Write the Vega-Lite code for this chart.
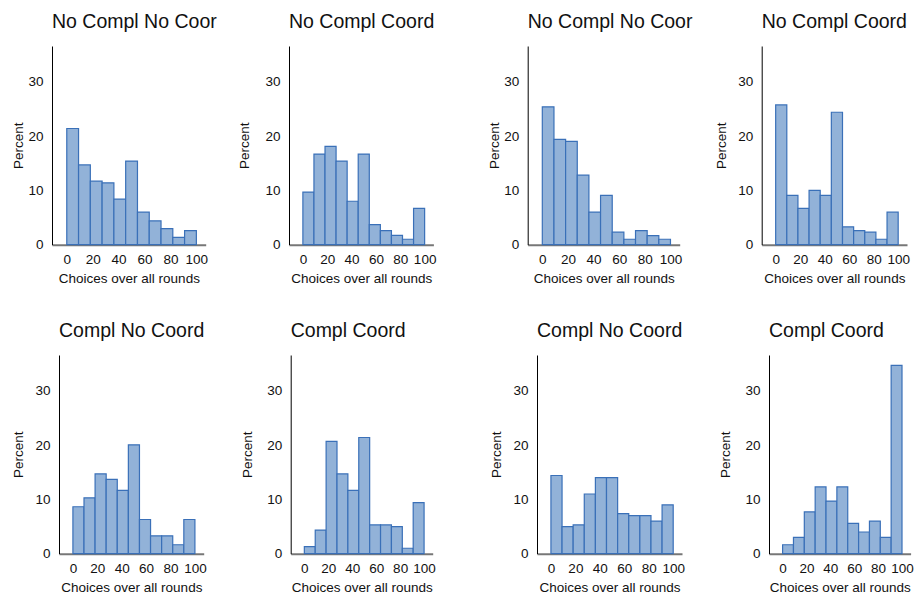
{
  "$schema": "https://vega.github.io/schema/vega-lite/v6.json",
  "background": "white",
  "padding": {"left": 11, "top": 11, "right": 0, "bottom": 0},
  "data": {
    "values": [
      {"p": 1, "lo": 0, "hi": 9.09, "pct": 21.4},
      {"p": 1, "lo": 9.09, "hi": 18.18, "pct": 14.7},
      {"p": 1, "lo": 18.18, "hi": 27.27, "pct": 11.7},
      {"p": 1, "lo": 27.27, "hi": 36.36, "pct": 11.4},
      {"p": 1, "lo": 36.36, "hi": 45.45, "pct": 8.4},
      {"p": 1, "lo": 45.45, "hi": 54.55, "pct": 15.4},
      {"p": 1, "lo": 54.55, "hi": 63.64, "pct": 6.0},
      {"p": 1, "lo": 63.64, "hi": 72.73, "pct": 4.4},
      {"p": 1, "lo": 72.73, "hi": 81.82, "pct": 2.95},
      {"p": 1, "lo": 81.82, "hi": 90.91, "pct": 1.35},
      {"p": 1, "lo": 90.91, "hi": 100, "pct": 2.6},

      {"p": 2, "lo": 0, "hi": 9.09, "pct": 9.7},
      {"p": 2, "lo": 9.09, "hi": 18.18, "pct": 16.7},
      {"p": 2, "lo": 18.18, "hi": 27.27, "pct": 18.1},
      {"p": 2, "lo": 27.27, "hi": 36.36, "pct": 15.4},
      {"p": 2, "lo": 36.36, "hi": 45.45, "pct": 8.0},
      {"p": 2, "lo": 45.45, "hi": 54.55, "pct": 16.7},
      {"p": 2, "lo": 54.55, "hi": 63.64, "pct": 3.7},
      {"p": 2, "lo": 63.64, "hi": 72.73, "pct": 2.6},
      {"p": 2, "lo": 72.73, "hi": 81.82, "pct": 1.7},
      {"p": 2, "lo": 81.82, "hi": 90.91, "pct": 1.0},
      {"p": 2, "lo": 90.91, "hi": 100, "pct": 6.7},

      {"p": 3, "lo": 0, "hi": 9.09, "pct": 25.4},
      {"p": 3, "lo": 9.09, "hi": 18.18, "pct": 19.4},
      {"p": 3, "lo": 18.18, "hi": 27.27, "pct": 19.05},
      {"p": 3, "lo": 27.27, "hi": 36.36, "pct": 12.8},
      {"p": 3, "lo": 36.36, "hi": 45.45, "pct": 6.0},
      {"p": 3, "lo": 45.45, "hi": 54.55, "pct": 9.1},
      {"p": 3, "lo": 54.55, "hi": 63.64, "pct": 2.3},
      {"p": 3, "lo": 63.64, "hi": 72.73, "pct": 1.0},
      {"p": 3, "lo": 72.73, "hi": 81.82, "pct": 2.6},
      {"p": 3, "lo": 81.82, "hi": 90.91, "pct": 1.66},
      {"p": 3, "lo": 90.91, "hi": 100, "pct": 1.0},

      {"p": 4, "lo": 0, "hi": 9.09, "pct": 25.75},
      {"p": 4, "lo": 9.09, "hi": 18.18, "pct": 9.1},
      {"p": 4, "lo": 18.18, "hi": 27.27, "pct": 6.7},
      {"p": 4, "lo": 27.27, "hi": 36.36, "pct": 10.0},
      {"p": 4, "lo": 36.36, "hi": 45.45, "pct": 9.1},
      {"p": 4, "lo": 45.45, "hi": 54.55, "pct": 24.4},
      {"p": 4, "lo": 54.55, "hi": 63.64, "pct": 3.3},
      {"p": 4, "lo": 63.64, "hi": 72.73, "pct": 2.6},
      {"p": 4, "lo": 72.73, "hi": 81.82, "pct": 2.3},
      {"p": 4, "lo": 81.82, "hi": 90.91, "pct": 1.0},
      {"p": 4, "lo": 90.91, "hi": 100, "pct": 6.0},

      {"p": 5, "lo": 0, "hi": 9.09, "pct": 8.65},
      {"p": 5, "lo": 9.09, "hi": 18.18, "pct": 10.3},
      {"p": 5, "lo": 18.18, "hi": 27.27, "pct": 14.7},
      {"p": 5, "lo": 27.27, "hi": 36.36, "pct": 13.7},
      {"p": 5, "lo": 36.36, "hi": 45.45, "pct": 11.65},
      {"p": 5, "lo": 45.45, "hi": 54.55, "pct": 20.06},
      {"p": 5, "lo": 54.55, "hi": 63.64, "pct": 6.3},
      {"p": 5, "lo": 63.64, "hi": 72.73, "pct": 3.3},
      {"p": 5, "lo": 72.73, "hi": 81.82, "pct": 3.3},
      {"p": 5, "lo": 81.82, "hi": 90.91, "pct": 1.65},
      {"p": 5, "lo": 90.91, "hi": 100, "pct": 6.3},

      {"p": 6, "lo": 0, "hi": 9.09, "pct": 1.3},
      {"p": 6, "lo": 9.09, "hi": 18.18, "pct": 4.35},
      {"p": 6, "lo": 18.18, "hi": 27.27, "pct": 20.7},
      {"p": 6, "lo": 27.27, "hi": 36.36, "pct": 14.7},
      {"p": 6, "lo": 36.36, "hi": 45.45, "pct": 11.65},
      {"p": 6, "lo": 45.45, "hi": 54.55, "pct": 21.4},
      {"p": 6, "lo": 54.55, "hi": 63.64, "pct": 5.3},
      {"p": 6, "lo": 63.64, "hi": 72.73, "pct": 5.3},
      {"p": 6, "lo": 72.73, "hi": 81.82, "pct": 5.0},
      {"p": 6, "lo": 81.82, "hi": 90.91, "pct": 1.0},
      {"p": 6, "lo": 90.91, "hi": 100, "pct": 9.4},

      {"p": 7, "lo": 0, "hi": 9.09, "pct": 14.4},
      {"p": 7, "lo": 9.09, "hi": 18.18, "pct": 5.0},
      {"p": 7, "lo": 18.18, "hi": 27.27, "pct": 5.3},
      {"p": 7, "lo": 27.27, "hi": 36.36, "pct": 11.0},
      {"p": 7, "lo": 36.36, "hi": 45.45, "pct": 14.0},
      {"p": 7, "lo": 45.45, "hi": 54.55, "pct": 14.0},
      {"p": 7, "lo": 54.55, "hi": 63.64, "pct": 7.4},
      {"p": 7, "lo": 63.64, "hi": 72.73, "pct": 7.0},
      {"p": 7, "lo": 72.73, "hi": 81.82, "pct": 7.0},
      {"p": 7, "lo": 81.82, "hi": 90.91, "pct": 6.0},
      {"p": 7, "lo": 90.91, "hi": 100, "pct": 9.0},

      {"p": 8, "lo": 0, "hi": 9.09, "pct": 1.65},
      {"p": 8, "lo": 9.09, "hi": 18.18, "pct": 3.0},
      {"p": 8, "lo": 18.18, "hi": 27.27, "pct": 7.7},
      {"p": 8, "lo": 27.27, "hi": 36.36, "pct": 12.3},
      {"p": 8, "lo": 36.36, "hi": 45.45, "pct": 9.7},
      {"p": 8, "lo": 45.45, "hi": 54.55, "pct": 12.3},
      {"p": 8, "lo": 54.55, "hi": 63.64, "pct": 5.6},
      {"p": 8, "lo": 63.64, "hi": 72.73, "pct": 4.0},
      {"p": 8, "lo": 72.73, "hi": 81.82, "pct": 6.0},
      {"p": 8, "lo": 81.82, "hi": 90.91, "pct": 3.0},
      {"p": 8, "lo": 90.91, "hi": 100, "pct": 34.7}
    ]
  },
  "config": {
    "font": "Liberation Sans",
    "view": {"stroke": null},
    "bar": {"fill": "#92b2d8", "stroke": "#3a70b8", "strokeWidth": 1.2},
    "axis": {
      "grid": false,
      "ticks": false,
      "tickSize": 0,
      "labelFontSize": 13.5,
      "titleFontSize": 13.5,
      "titleFontWeight": "normal",
      "labelColor": "#111111",
      "titleColor": "#111111",
      "labelFlush": false,
      "labelOverlap": false
    },
    "axisX": {"domainColor": "#777777", "domainWidth": 2, "labelPadding": 8, "titlePadding": 5},
    "axisY": {"domainColor": "#000000", "domainWidth": 1, "labelPadding": 9},
    "title": {"fontSize": 19.5, "fontWeight": "normal", "anchor": "start", "frame": "group", "offset": 14, "color": "#111111"}
  },
  "columns": 1,
  "align": "none",
  "spacing": 35,
  "concat": [
    {
      "spacing": 50.7,
      "hconcat": [
        {
          "spacing": 20,
          "hconcat": [
            {
              "title": "No Compl No Coor",
              "width": 153.7, "height": 198.7,
              "transform": [{"filter": "datum.p == 1"}],
              "mark": "bar",
              "encoding": {
                "x": {"field": "lo", "type": "quantitative", "scale": {"domain": [-11.4, 107.2], "nice": false, "zero": false}, "axis": {"title": "Choices over all rounds", "values": [0, 20, 40, 60, 80, 100]}},
                "x2": {"field": "hi"},
                "y": {"field": "pct", "type": "quantitative", "scale": {"domain": [0, 36.6], "nice": false}, "axis": {"title": "Percent", "values": [0, 10, 20, 30], "titlePadding": 2.5}},
                "y2": {"datum": 0}
              }
            },
            {
              "title": "No Compl Coord",
              "width": 144.4, "height": 198.7,
              "transform": [{"filter": "datum.p == 2"}],
              "mark": "bar",
              "encoding": {
                "x": {"field": "lo", "type": "quantitative", "scale": {"domain": [-11.4, 107.2], "nice": false, "zero": false}, "axis": {"title": "Choices over all rounds", "values": [0, 20, 40, 60, 80, 100]}},
                "x2": {"field": "hi"},
                "y": {"field": "pct", "type": "quantitative", "scale": {"domain": [0, 36.6], "nice": false}, "axis": {"title": "Percent", "values": [0, 10, 20, 30], "titlePadding": 13.8}},
                "y2": {"datum": 0}
              }
            }
          ]
        },
        {
          "spacing": 21,
          "hconcat": [
            {
              "title": "No Compl No Coor",
              "width": 152, "height": 198.7,
              "transform": [{"filter": "datum.p == 3"}],
              "mark": "bar",
              "encoding": {
                "x": {"field": "lo", "type": "quantitative", "scale": {"domain": [-11.4, 107.2], "nice": false, "zero": false}, "axis": {"title": "Choices over all rounds", "values": [0, 20, 40, 60, 80, 100]}},
                "x2": {"field": "hi"},
                "y": {"field": "pct", "type": "quantitative", "scale": {"domain": [0, 36.6], "nice": false}, "axis": {"title": "Percent", "values": [0, 10, 20, 30], "titlePadding": 2.5}},
                "y2": {"datum": 0}
              }
            },
            {
              "title": "No Compl Coord",
              "width": 145.3, "height": 198.7,
              "transform": [{"filter": "datum.p == 4"}],
              "mark": "bar",
              "encoding": {
                "x": {"field": "lo", "type": "quantitative", "scale": {"domain": [-11.4, 107.2], "nice": false, "zero": false}, "axis": {"title": "Choices over all rounds", "values": [0, 20, 40, 60, 80, 100]}},
                "x2": {"field": "hi"},
                "y": {"field": "pct", "type": "quantitative", "scale": {"domain": [0, 36.6], "nice": false}, "axis": {"title": "Percent", "values": [0, 10, 20, 30], "titlePadding": 9.5}},
                "y2": {"datum": 0}
              }
            }
          ]
        }
      ]
    },
    {
      "spacing": 53,
      "hconcat": [
        {
          "spacing": 32.7,
          "hconcat": [
            {
              "title": {"text": "Compl No Coord", "dx": 7},
              "width": 151.7, "height": 198.7,
              "transform": [{"filter": "datum.p == 5"}],
              "mark": "bar",
              "encoding": {
                "x": {"field": "lo", "type": "quantitative", "scale": {"domain": [-11.4, 107.2], "nice": false, "zero": false, "range": [7, 151.7]}, "axis": {"title": "Choices over all rounds", "values": [0, 20, 40, 60, 80, 100]}},
                "x2": {"field": "hi"},
                "y": {"field": "pct", "type": "quantitative", "scale": {"domain": [0, 36.6], "nice": false}, "axis": {"title": "Percent", "values": [0, 10, 20, 30], "titlePadding": 9.5, "offset": -7}},
                "y2": {"datum": 0}
              }
            },
            {
              "title": "Compl Coord",
              "width": 142, "height": 198.7,
              "transform": [{"filter": "datum.p == 6"}],
              "mark": "bar",
              "encoding": {
                "x": {"field": "lo", "type": "quantitative", "scale": {"domain": [-11.4, 107.2], "nice": false, "zero": false}, "axis": {"title": "Choices over all rounds", "values": [0, 20, 40, 60, 80, 100]}},
                "x2": {"field": "hi"},
                "y": {"field": "pct", "type": "quantitative", "scale": {"domain": [0, 36.6], "nice": false}, "axis": {"title": "Percent", "values": [0, 10, 20, 30], "titlePadding": 12.1}},
                "y2": {"datum": 0}
              }
            }
          ]
        },
        {
          "spacing": 33,
          "hconcat": [
            {
              "title": "Compl No Coord",
              "width": 145, "height": 198.7,
              "transform": [{"filter": "datum.p == 7"}],
              "mark": "bar",
              "encoding": {
                "x": {"field": "lo", "type": "quantitative", "scale": {"domain": [-11.4, 107.2], "nice": false, "zero": false}, "axis": {"title": "Choices over all rounds", "values": [0, 20, 40, 60, 80, 100]}},
                "x2": {"field": "hi"},
                "y": {"field": "pct", "type": "quantitative", "scale": {"domain": [0, 36.6], "nice": false}, "axis": {"title": "Percent", "values": [0, 10, 20, 30], "titlePadding": 9.5}},
                "y2": {"datum": 0}
              }
            },
            {
              "title": "Compl Coord",
              "width": 141.6, "height": 198.7,
              "transform": [{"filter": "datum.p == 8"}],
              "mark": "bar",
              "encoding": {
                "x": {"field": "lo", "type": "quantitative", "scale": {"domain": [-11.4, 107.2], "nice": false, "zero": false}, "axis": {"title": "Choices over all rounds", "values": [0, 20, 40, 60, 80, 100]}},
                "x2": {"field": "hi"},
                "y": {"field": "pct", "type": "quantitative", "scale": {"domain": [0, 36.6], "nice": false}, "axis": {"title": "Percent", "values": [0, 10, 20, 30], "titlePadding": 12.5}},
                "y2": {"datum": 0}
              }
            }
          ]
        }
      ]
    }
  ]
}
